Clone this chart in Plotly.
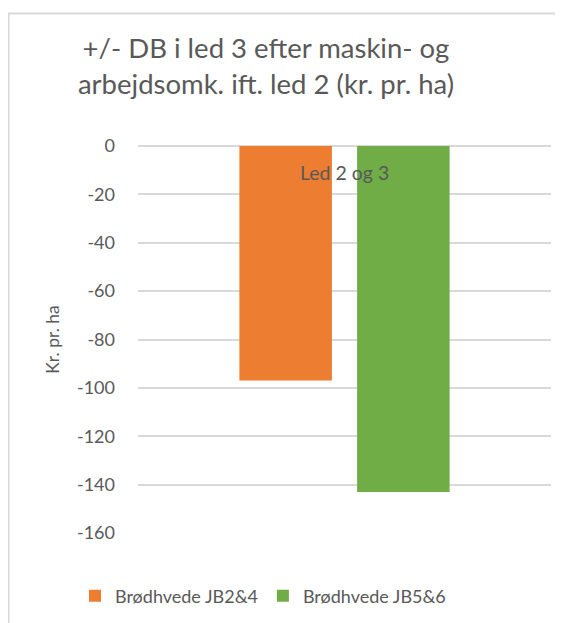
import plotly.graph_objects as go

categories = ["Led 2 og 3"]
series_names = ["Brødhvede JB2&4", "Brødhvede JB5&6"]
series_values = [[-97], [-143]]
series_colors = ["#ED7D31", "#70AD47"]
y_ticks = [0, -20, -40, -60, -80, -100, -120, -140, -160]
y_tick_labels = ["0", "-20", "-40", "-60", "-80", "-100", "-120", "-140", "-160"]

FONT = "Lato"
GREY = "#595959"
OFF = 8  # page body margin

fig = go.Figure()
for name, vals, col in zip(series_names, series_values, series_colors):
    fig.add_trace(go.Bar(x=categories, y=vals, name=name, marker_color=col,
                         marker_line_width=0))

W, H = 555, 615
L, T = 138 - OFF, 146 - OFF
R = W - (551 - OFF)
B = H - (533 - OFF)
pw, ph = W - L - R, H - T - B

def px_x(p):
    return (p - OFF - L) / pw

def px_y(p):
    return (H - B - (p - OFF)) / ph

fig.update_layout(
    width=W, height=H,
    margin=dict(l=L, r=R, t=T, b=B, autoexpand=False),
    paper_bgcolor="white", plot_bgcolor="white",
    font=dict(family=FONT, color=GREY),
    barmode="group", bargap=0.43, bargroupgap=0.214,
    title=dict(text="+/- DB i led 3 efter maskin- og<br>arbejdsomk. ift. led 2 (kr. pr. ha)",
               x=(266 - OFF) / W, xanchor="center", xref="container",
               y=1 - (58 - OFF) / H, yanchor="middle", yref="container",
               font=dict(size=27.5, color=GREY, family=FONT)),
    xaxis=dict(type="category", range=[-0.5, 0.5], showticklabels=False,
               showgrid=False, showline=False, zeroline=False, ticks=""),
    yaxis=dict(range=[-160, 0], tickvals=y_ticks, ticktext=y_tick_labels, ticks="",
               showgrid=True, gridcolor="#d9d9d9", gridwidth=1.5,
               zeroline=True, zerolinecolor="#d9d9d9", zerolinewidth=1.5,
               showline=False, ticklabelstandoff=22,
               tickfont=dict(size=18, color=GREY, family=FONT),
               title=dict(text="Kr. pr. ha", standoff=12,
                          font=dict(size=17.5, color=GREY, family=FONT))),
    legend=dict(orientation="h", x=px_x(263), xanchor="center",
                y=px_y(596), yanchor="middle",
                font=dict(size=18, color=GREY, family=FONT),
                bgcolor="rgba(0,0,0,0)", traceorder="normal"),
    showlegend=True,
)

fig.add_annotation(x=categories[0], y=0, xref="x", yref="y", text=categories[0],
                   showarrow=False, yanchor="middle", yshift=-26,
                   font=dict(size=19.5, color=GREY, family=FONT))

fig.add_shape(type="rect", xref="paper", yref="paper",
              x0=px_x(8.5), x1=px_x(600), y0=px_y(660), y1=px_y(13.5),
              line=dict(color="#d9d9d9", width=2), fillcolor="rgba(0,0,0,0)",
              layer="below")

fig.write_html("out.html")
